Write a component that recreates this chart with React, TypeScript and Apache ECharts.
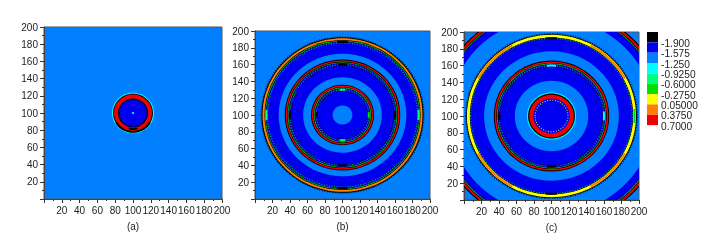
import React, { useEffect, useRef } from "react";
import * as echarts from "echarts";

// Colour levels of the contour scale, low to high
const levelColors = ["#000000", "#0000f0", "#0080ff", "#00ffff", "#00ff80", "#00e000", "#ffff00", "#ff8000", "#f00000"];
const levelLabels = ["-1.900", "-1.575", "-1.250", "-0.9250", "-0.6000", "-0.2750", "0.05000", "0.3750", "0.7000"];
const panelNames = ["(a)", "(b)", "(c)"];

// Filled contour bands, outermost first: [radius, level]
const bandsA = [[23.6, 3], [22.4, 0], [21.4, 8], [17, 0], [16, 1], [1.3, 3]];
const hatchA = [[15.4, 0]];
const arcsA = [[18.5, 255, 285, 0], [21.8, 210, 330, 0]];

const bandsB = [
  [92.6, 0], [91.4, 7], [89.2, 0], [88.4, 5], [87.6, 1], [73, 2], [66, 0], [65, 8], [63.4, 0], [62.6, 5], [61.8, 1],
  [45, 2], [36, 0], [35, 8], [33.4, 0], [32.6, 5], [31.8, 1], [11.3, 2],
];
const hatchB = [[93, 0], [87, 0], [85.8, 5], [61.2, 0], [60, 5], [58.8, 0], [31.2, 0], [30, 5], [28.8, 0]];
const arcsB = [
  [87, -4, 4, 4], [87, 176, 184, 4], [87, 86, 94, 0], [87, 266, 274, 0],
  [60, -5, 5, 0], [60, 175, 185, 0], [60, 85, 95, 0], [60, 265, 275, 0],
  [30, -6, 6, 5], [30, 174, 186, 0], [30, 84, 96, 4], [30, 264, 276, 4],
];

const bandsC = [
  [131, 0], [129.6, 8], [127.4, 0], [126.4, 5], [125.6, 1], [117, 2], [97.6, 0], [96.6, 6], [93.4, 0], [92.8, 1], [77, 2],
  [66, 0], [65, 8], [63.2, 0], [62.4, 5], [61.6, 1], [42, 2], [28, 3], [26.8, 0], [25.4, 8], [20.8, 1],
];
const hatchC = [[98.2, 0], [92.4, 5], [61, 0], [59.8, 5], [58.6, 0], [18.8, 6], [125, 0]];
const arcsC = [
  [95, 28, 62, 7], [95, 118, 152, 7], [95, 208, 242, 7], [95, 298, 332, 7],
  [95, -5, 5, 5], [95, 175, 185, 6], [92.5, 86, 94, 0], [92.5, 266, 274, 0],
  [60, -5, 5, 3], [60, 175, 185, 0], [60, 85, 95, 3], [60, 265, 275, 0],
];

const panelBands = [bandsA, bandsB, bandsC];
const panelHatches = [hatchA, hatchB, hatchC];
const panelArcs = [arcsA, arcsB, arcsC];
const CENTER = 100;

function renderRing(params: any, api: any) {
  const kind = api.value(0);
  const radius = api.value(1);
  const color = levelColors[api.value(2)];
  const c = api.coord([CENTER, CENTER]);
  const size = api.size([radius, radius]);
  if (kind === 0) {
    return { type: "ellipse", shape: { cx: c[0], cy: c[1], rx: size[0], ry: size[1] }, style: { fill: color } };
  }
  if (kind === 1) {
    return {
      type: "ellipse",
      shape: { cx: c[0], cy: c[1], rx: size[0], ry: size[1] },
      style: { fill: "none", stroke: color, lineWidth: 1.2, lineDash: [1, 1.6], opacity: 0.8 },
    };
  }
  const from = api.value(3);
  const to = api.value(4);
  const points: number[][] = [];
  for (let a = from; a <= to; a += 2) {
    const t = (a * Math.PI) / 180;
    points.push(api.coord([CENTER + radius * Math.cos(t), CENTER + radius * Math.sin(t)]));
  }
  return { type: "polyline", shape: { points }, style: { fill: "none", stroke: color, lineWidth: 2 } };
}

const grids = [
  { left: 44, top: 27, width: 178, height: 172 },
  { left: 255, top: 31, width: 175, height: 168 },
  { left: 464, top: 32, width: 175, height: 168 },
];

const FONT = "'Liberation Sans', Arial, sans-serif";
const TEXT = "#222222";

function axisBase() {
  return {
    type: "value" as const,
    min: 0,
    max: 200,
    interval: 20,
    splitLine: { show: false },
    axisLine: { show: true, onZero: false, lineStyle: { color: "#444444", width: 1 } },
    axisTick: { show: true, length: 4, lineStyle: { color: "#333333", width: 1 } },
    minorTick: { show: true, splitNumber: 2, length: 2, lineStyle: { color: "#333333", width: 1 } },
    minorSplitLine: { show: false },
    axisLabel: { show: true, showMinLabel: false, showMaxLabel: true, color: TEXT, fontFamily: FONT, fontSize: 10, margin: 6 },
  };
}

export default function App() {
  const ref = useRef<HTMLDivElement>(null);
  useEffect(() => {
    const chart = echarts.init(ref.current!, null, { renderer: "svg" });
    const barLeft = 647, barTop = 32, barW = 11, barH = 10.35;
    const legend: any[] = [];
    levelColors.forEach((color, i) => {
      legend.push({
        type: "rect",
        shape: { x: barLeft, y: barTop + i * barH, width: barW, height: barH },
        style: { fill: color },
      });
      legend.push({
        type: "text",
        x: barLeft + 14,
        y: barTop + (i + 1) * barH + 1,
        style: { text: levelLabels[i], fill: TEXT, font: `10.2px ${FONT}`, verticalAlign: "middle" },
      });
    });
    const series: any[] = panelBands.map((bands, p) => ({
      type: "custom",
      xAxisIndex: p,
      yAxisIndex: p,
      clip: true,
      silent: true,
      renderItem: renderRing,
      data: [
        ...bands.map(([r, level]) => [0, r, level, 0, 0]),
        ...panelHatches[p].map(([r, level]) => [1, r, level, 0, 0]),
        ...panelArcs[p].map(([r, from, to, level]) => [2, r, level, from, to]),
      ],
    }));
    chart.setOption({
      animation: false,
      backgroundColor: "#ffffff",
      grid: grids.map((g) => ({ ...g, show: true, backgroundColor: levelColors[2], borderColor: "#555555", borderWidth: 1 })),
      xAxis: grids.map((_, i) => ({
        ...axisBase(),
        gridIndex: i,
        name: panelNames[i],
        nameLocation: "middle",
        nameGap: 22,
        nameTextStyle: { color: TEXT, fontFamily: FONT, fontSize: 10 },
      })),
      yAxis: grids.map((_, i) => ({ ...axisBase(), gridIndex: i })),
      series,
      graphic: legend,
    });
    return () => chart.dispose();
  }, []);
  return <div ref={ref} style={{ position: "fixed", left: 0, top: 0, width: 727, height: 246, background: "#fff", filter: "blur(0.35px)" }} />;
}
